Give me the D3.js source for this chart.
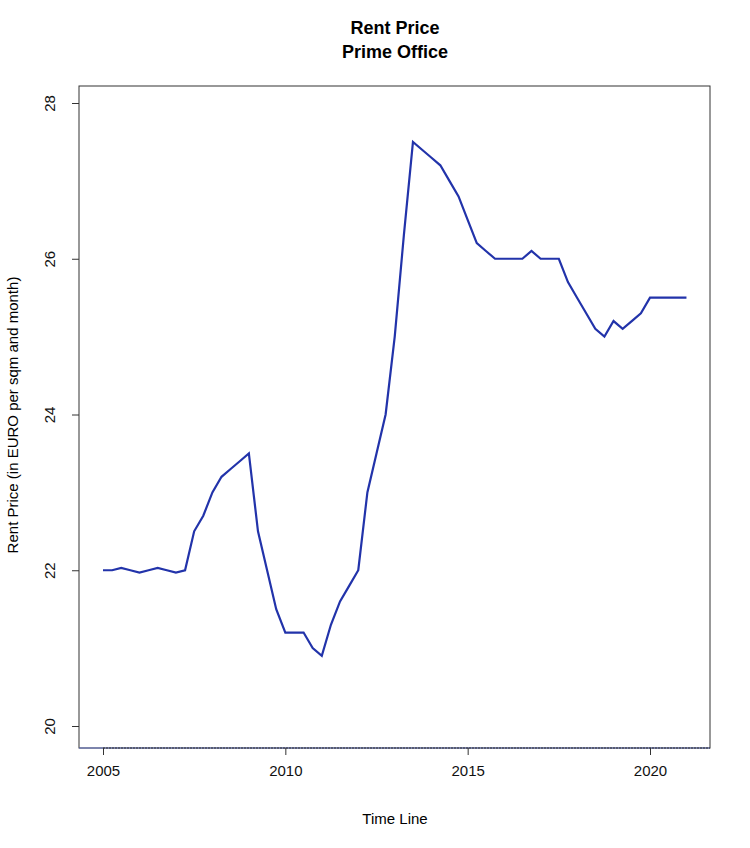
<!DOCTYPE html><html><head><meta charset="utf-8"><script src="https://cdn.jsdelivr.net/npm/d3@7"></script>
<style>body{margin:0;background:#fff}text{font-family:"Liberation Sans",Arial,sans-serif}</style></head><body><svg id="c" width="750" height="848"></svg><script>
const startYear=2005, step=0.25;
const values=[22,22,22.03,22,21.97,22,22.03,22,21.97,22,22.5,22.7,23,23.2,23.3,23.4,23.5,22.5,22,21.5,21.2,21.2,21.2,21,20.9,21.3,21.6,21.8,22,23,23.5,24,25,26.3,27.5,27.4,27.3,27.2,27,26.8,26.5,26.2,26.1,26,26,26,26,26.1,26,26,26,25.7,25.5,25.3,25.1,25,25.2,25.1,25.2,25.3,25.5,25.5,25.5,25.5,25.5];
const xTicks=[2005,2010,2015,2020], yTicks=[20,22,24,26,28];
const data=values.map((v,i)=>({x:startYear+i*step,y:v}));
const svg=d3.select("#c");
const L=79,R=710,T=86,B=748;
const x=d3.scaleLinear().domain([2005,2020]).range([103,650]);
const y=d3.scaleLinear().domain([20,28]).range([726,103]);
svg.append("rect").attr("x",L).attr("y",T).attr("width",R-L).attr("height",B-T).attr("fill","none").attr("stroke","#333");
svg.append("line").attr("x1",L).attr("x2",R).attr("y1",B).attr("y2",B).attr("stroke","#6070c0");
svg.append("line").attr("x1",x(2005)).attr("x2",R).attr("y1",B).attr("y2",B).attr("stroke","#333").attr("stroke-dasharray","2,1");
const gx=svg.append("g").attr("transform",`translate(0,${B})`).call(d3.axisBottom(x).tickValues(xTicks).tickFormat(d3.format("d")).tickSize(7).tickPadding(10));
gx.select(".domain").remove();
const gy=svg.append("g").attr("transform",`translate(${L},0)`).call(d3.axisLeft(y).tickValues(yTicks).tickSize(7).tickPadding(6));
gy.select(".domain").remove();
gy.selectAll(".tick text").attr("text-anchor","middle").attr("x",-20).attr("transform","rotate(-90,-20,0)").attr("dy","-0.3em");
svg.selectAll(".tick text").attr("font-size",15).attr("fill","#111").style("font-family","Liberation Sans, Arial");
svg.selectAll(".tick line").attr("stroke","#333");
svg.append("path").datum(data).attr("fill","none").attr("stroke","#2233aa").attr("stroke-width",2.2)
 .attr("d",d3.line().x(d=>x(d.x)).y(d=>y(d.y)));
svg.append("text").attr("x",395).attr("y",34).attr("text-anchor","middle").attr("font-weight","bold").attr("font-size",18).text("Rent Price");
svg.append("text").attr("x",395).attr("y",58).attr("text-anchor","middle").attr("font-weight","bold").attr("font-size",18).text("Prime Office");
svg.append("text").attr("x",395).attr("y",824).attr("text-anchor","middle").attr("font-size",15).text("Time Line");
svg.append("text").attr("transform","translate(18,415) rotate(-90)").attr("text-anchor","middle").attr("font-size",15).text("Rent Price (in EURO per sqm and month)");
</script></body></html>
